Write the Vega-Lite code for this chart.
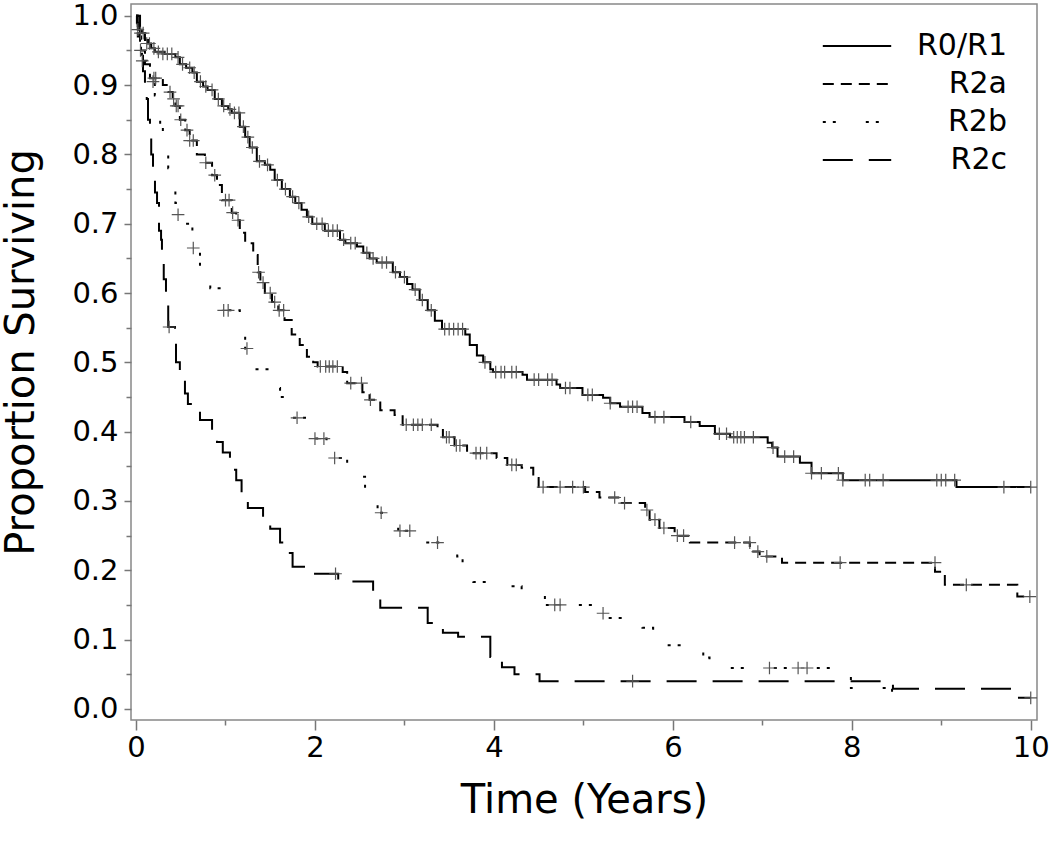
{
  "$schema": "https://vega.github.io/schema/vega-lite/v6.json",
  "width": 906,
  "height": 716,
  "autosize": {"type": "none"},
  "padding": {"left": 131, "top": 4, "right": 13, "bottom": 129},
  "background": "white",
  "config": {
    "view": {"stroke": "#888888", "strokeWidth": 1.5},
    "font": "DejaVu Sans",
    "axis": {"domain": false, "grid": false, "labelFont": "DejaVu Sans", "titleFont": "DejaVu Sans", "labelColor": "black", "titleColor": "black", "tickColor": "#777777", "tickWidth": 1.5, "labelFontSize": 29, "titleFontSize": 40, "titleFontWeight": "normal"},
    "legend": {"labelFont": "DejaVu Sans"}
  },
  "datasets": {
    "curves": [
      {"g":"R0/R1","t":0,"s":1.0},{"g":"R0/R1","t":0.01,"s":0.99},{"g":"R0/R1","t":0.02,"s":0.98},{"g":"R0/R1","t":0.067,"s":0.975},{"g":"R0/R1","t":0.10,"s":0.965},{"g":"R0/R1","t":0.134,"s":0.96},{"g":"R0/R1","t":0.17,"s":0.953},{"g":"R0/R1","t":0.21,"s":0.948},{"g":"R0/R1","t":0.32,"s":0.945},{"g":"R0/R1","t":0.44,"s":0.94},{"g":"R0/R1","t":0.49,"s":0.93},{"g":"R0/R1","t":0.56,"s":0.925},{"g":"R0/R1","t":0.63,"s":0.918},{"g":"R0/R1","t":0.68,"s":0.905},{"g":"R0/R1","t":0.75,"s":0.898},{"g":"R0/R1","t":0.80,"s":0.893},{"g":"R0/R1","t":0.88,"s":0.88},{"g":"R0/R1","t":0.96,"s":0.87},{"g":"R0/R1","t":1.03,"s":0.865},{"g":"R0/R1","t":1.07,"s":0.86},{"g":"R0/R1","t":1.16,"s":0.84},{"g":"R0/R1","t":1.22,"s":0.825},{"g":"R0/R1","t":1.27,"s":0.81},{"g":"R0/R1","t":1.35,"s":0.79},{"g":"R0/R1","t":1.44,"s":0.785},{"g":"R0/R1","t":1.50,"s":0.778},{"g":"R0/R1","t":1.55,"s":0.763},{"g":"R0/R1","t":1.63,"s":0.75},{"g":"R0/R1","t":1.72,"s":0.739},{"g":"R0/R1","t":1.78,"s":0.73},{"g":"R0/R1","t":1.85,"s":0.72},{"g":"R0/R1","t":1.91,"s":0.71},{"g":"R0/R1","t":1.97,"s":0.70},{"g":"R0/R1","t":2.11,"s":0.69},{"g":"R0/R1","t":2.28,"s":0.677},{"g":"R0/R1","t":2.34,"s":0.672},{"g":"R0/R1","t":2.47,"s":0.667},{"g":"R0/R1","t":2.54,"s":0.658},{"g":"R0/R1","t":2.61,"s":0.65},{"g":"R0/R1","t":2.69,"s":0.644},{"g":"R0/R1","t":2.87,"s":0.63},{"g":"R0/R1","t":2.95,"s":0.623},{"g":"R0/R1","t":3.03,"s":0.613},{"g":"R0/R1","t":3.09,"s":0.605},{"g":"R0/R1","t":3.17,"s":0.59},{"g":"R0/R1","t":3.26,"s":0.575},{"g":"R0/R1","t":3.34,"s":0.56},{"g":"R0/R1","t":3.42,"s":0.548},{"g":"R0/R1","t":3.68,"s":0.54},{"g":"R0/R1","t":3.73,"s":0.525},{"g":"R0/R1","t":3.81,"s":0.51},{"g":"R0/R1","t":3.88,"s":0.50},{"g":"R0/R1","t":3.96,"s":0.49},{"g":"R0/R1","t":3.99,"s":0.486},{"g":"R0/R1","t":4.32,"s":0.482},{"g":"R0/R1","t":4.37,"s":0.475},{"g":"R0/R1","t":4.70,"s":0.468},{"g":"R0/R1","t":4.74,"s":0.463},{"g":"R0/R1","t":4.99,"s":0.453},{"g":"R0/R1","t":5.22,"s":0.449},{"g":"R0/R1","t":5.30,"s":0.441},{"g":"R0/R1","t":5.41,"s":0.436},{"g":"R0/R1","t":5.66,"s":0.427},{"g":"R0/R1","t":5.74,"s":0.421},{"g":"R0/R1","t":6.13,"s":0.414},{"g":"R0/R1","t":6.30,"s":0.408},{"g":"R0/R1","t":6.47,"s":0.397},{"g":"R0/R1","t":6.64,"s":0.392},{"g":"R0/R1","t":7.06,"s":0.384},{"g":"R0/R1","t":7.11,"s":0.377},{"g":"R0/R1","t":7.17,"s":0.364},{"g":"R0/R1","t":7.42,"s":0.355},{"g":"R0/R1","t":7.55,"s":0.34},{"g":"R0/R1","t":7.90,"s":0.33},{"g":"R0/R1","t":9.17,"s":0.32},{"g":"R0/R1","t":10.0,"s":0.32},
      {"g":"R2a","t":0,"s":1.0},{"g":"R2a","t":0.02,"s":0.97},{"g":"R2a","t":0.056,"s":0.95},{"g":"R2a","t":0.10,"s":0.93},{"g":"R2a","t":0.156,"s":0.91},{"g":"R2a","t":0.30,"s":0.90},{"g":"R2a","t":0.36,"s":0.89},{"g":"R2a","t":0.41,"s":0.88},{"g":"R2a","t":0.44,"s":0.87},{"g":"R2a","t":0.49,"s":0.85},{"g":"R2a","t":0.55,"s":0.835},{"g":"R2a","t":0.60,"s":0.82},{"g":"R2a","t":0.68,"s":0.80},{"g":"R2a","t":0.77,"s":0.788},{"g":"R2a","t":0.85,"s":0.77},{"g":"R2a","t":0.905,"s":0.756},{"g":"R2a","t":0.96,"s":0.734},{"g":"R2a","t":1.07,"s":0.716},{"g":"R2a","t":1.12,"s":0.705},{"g":"R2a","t":1.16,"s":0.687},{"g":"R2a","t":1.22,"s":0.672},{"g":"R2a","t":1.31,"s":0.655},{"g":"R2a","t":1.36,"s":0.63},{"g":"R2a","t":1.39,"s":0.615},{"g":"R2a","t":1.44,"s":0.60},{"g":"R2a","t":1.52,"s":0.587},{"g":"R2a","t":1.59,"s":0.575},{"g":"R2a","t":1.66,"s":0.561},{"g":"R2a","t":1.74,"s":0.54},{"g":"R2a","t":1.83,"s":0.525},{"g":"R2a","t":1.91,"s":0.508},{"g":"R2a","t":1.98,"s":0.50},{"g":"R2a","t":2.03,"s":0.494},{"g":"R2a","t":2.31,"s":0.486},{"g":"R2a","t":2.36,"s":0.47},{"g":"R2a","t":2.53,"s":0.457},{"g":"R2a","t":2.61,"s":0.446},{"g":"R2a","t":2.73,"s":0.431},{"g":"R2a","t":2.89,"s":0.424},{"g":"R2a","t":2.98,"s":0.41},{"g":"R2a","t":3.37,"s":0.405},{"g":"R2a","t":3.43,"s":0.392},{"g":"R2a","t":3.56,"s":0.38},{"g":"R2a","t":3.70,"s":0.369},{"g":"R2a","t":4.03,"s":0.362},{"g":"R2a","t":4.15,"s":0.352},{"g":"R2a","t":4.31,"s":0.348},{"g":"R2a","t":4.44,"s":0.333},{"g":"R2a","t":4.50,"s":0.32},{"g":"R2a","t":5.02,"s":0.313},{"g":"R2a","t":5.18,"s":0.305},{"g":"R2a","t":5.41,"s":0.297},{"g":"R2a","t":5.69,"s":0.287},{"g":"R2a","t":5.74,"s":0.273},{"g":"R2a","t":5.85,"s":0.261},{"g":"R2a","t":6.02,"s":0.25},{"g":"R2a","t":6.19,"s":0.24},{"g":"R2a","t":6.86,"s":0.227},{"g":"R2a","t":6.97,"s":0.22},{"g":"R2a","t":7.22,"s":0.211},{"g":"R2a","t":8.93,"s":0.198},{"g":"R2a","t":9.04,"s":0.179},{"g":"R2a","t":9.85,"s":0.162},{"g":"R2a","t":10.0,"s":0.162},
      {"g":"R2b","t":0,"s":1.0},{"g":"R2b","t":0.02,"s":0.96},{"g":"R2b","t":0.067,"s":0.935},{"g":"R2b","t":0.12,"s":0.92},{"g":"R2b","t":0.18,"s":0.905},{"g":"R2b","t":0.21,"s":0.885},{"g":"R2b","t":0.245,"s":0.865},{"g":"R2b","t":0.27,"s":0.84},{"g":"R2b","t":0.30,"s":0.81},{"g":"R2b","t":0.36,"s":0.78},{"g":"R2b","t":0.38,"s":0.76},{"g":"R2b","t":0.44,"s":0.73},{"g":"R2b","t":0.49,"s":0.70},{"g":"R2b","t":0.63,"s":0.665},{"g":"R2b","t":0.715,"s":0.63},{"g":"R2b","t":0.83,"s":0.607},{"g":"R2b","t":0.96,"s":0.575},{"g":"R2b","t":1.16,"s":0.545},{"g":"R2b","t":1.22,"s":0.52},{"g":"R2b","t":1.33,"s":0.49},{"g":"R2b","t":1.53,"s":0.463},{"g":"R2b","t":1.61,"s":0.45},{"g":"R2b","t":1.66,"s":0.44},{"g":"R2b","t":1.72,"s":0.42},{"g":"R2b","t":1.91,"s":0.41},{"g":"R2b","t":1.97,"s":0.39},{"g":"R2b","t":2.13,"s":0.378},{"g":"R2b","t":2.19,"s":0.362},{"g":"R2b","t":2.36,"s":0.345},{"g":"R2b","t":2.41,"s":0.335},{"g":"R2b","t":2.56,"s":0.31},{"g":"R2b","t":2.65,"s":0.30},{"g":"R2b","t":2.70,"s":0.283},{"g":"R2b","t":2.90,"s":0.276},{"g":"R2b","t":2.93,"s":0.257},{"g":"R2b","t":3.12,"s":0.24},{"g":"R2b","t":3.59,"s":0.22},{"g":"R2b","t":3.65,"s":0.208},{"g":"R2b","t":3.77,"s":0.183},{"g":"R2b","t":4.04,"s":0.177},{"g":"R2b","t":4.31,"s":0.169},{"g":"R2b","t":4.57,"s":0.15},{"g":"R2b","t":5.18,"s":0.138},{"g":"R2b","t":5.27,"s":0.131},{"g":"R2b","t":5.61,"s":0.125},{"g":"R2b","t":5.66,"s":0.117},{"g":"R2b","t":5.78,"s":0.111},{"g":"R2b","t":5.94,"s":0.092},{"g":"R2b","t":6.10,"s":0.088},{"g":"R2b","t":6.34,"s":0.074},{"g":"R2b","t":6.41,"s":0.066},{"g":"R2b","t":6.50,"s":0.059},{"g":"R2b","t":7.99,"s":0.03},{"g":"R2b","t":8.45,"s":0.0},
      {"g":"R2c","t":0,"s":1.0},{"g":"R2c","t":0.045,"s":0.96},{"g":"R2c","t":0.067,"s":0.95},{"g":"R2c","t":0.078,"s":0.92},{"g":"R2c","t":0.10,"s":0.90},{"g":"R2c","t":0.12,"s":0.88},{"g":"R2c","t":0.134,"s":0.85},{"g":"R2c","t":0.156,"s":0.83},{"g":"R2c","t":0.17,"s":0.80},{"g":"R2c","t":0.19,"s":0.78},{"g":"R2c","t":0.212,"s":0.745},{"g":"R2c","t":0.235,"s":0.73},{"g":"R2c","t":0.257,"s":0.69},{"g":"R2c","t":0.28,"s":0.677},{"g":"R2c","t":0.29,"s":0.645},{"g":"R2c","t":0.31,"s":0.62},{"g":"R2c","t":0.335,"s":0.595},{"g":"R2c","t":0.36,"s":0.551},{"g":"R2c","t":0.436,"s":0.528},{"g":"R2c","t":0.447,"s":0.50},{"g":"R2c","t":0.49,"s":0.48},{"g":"R2c","t":0.547,"s":0.455},{"g":"R2c","t":0.58,"s":0.44},{"g":"R2c","t":0.715,"s":0.417},{"g":"R2c","t":0.85,"s":0.40},{"g":"R2c","t":0.905,"s":0.385},{"g":"R2c","t":0.97,"s":0.37},{"g":"R2c","t":1.05,"s":0.345},{"g":"R2c","t":1.12,"s":0.33},{"g":"R2c","t":1.18,"s":0.305},{"g":"R2c","t":1.25,"s":0.29},{"g":"R2c","t":1.42,"s":0.277},{"g":"R2c","t":1.50,"s":0.26},{"g":"R2c","t":1.61,"s":0.24},{"g":"R2c","t":1.66,"s":0.225},{"g":"R2c","t":1.75,"s":0.205},{"g":"R2c","t":1.89,"s":0.195},{"g":"R2c","t":2.26,"s":0.184},{"g":"R2c","t":2.65,"s":0.17},{"g":"R2c","t":2.69,"s":0.158},{"g":"R2c","t":2.73,"s":0.146},{"g":"R2c","t":3.26,"s":0.124},{"g":"R2c","t":3.43,"s":0.11},{"g":"R2c","t":3.60,"s":0.104},{"g":"R2c","t":3.96,"s":0.075},{"g":"R2c","t":4.09,"s":0.06},{"g":"R2c","t":4.23,"s":0.05},{"g":"R2c","t":4.51,"s":0.04},{"g":"R2c","t":8.46,"s":0.029},{"g":"R2c","t":9.85,"s":0.016},{"g":"R2c","t":10.0,"s":0.016}
    ],
    "censors": [
      {"g":"R0/R1","t":0.02,"s":0.98},{"g":"R0/R1","t":0.05,"s":0.975},{"g":"R0/R1","t":0.08,"s":0.975},{"g":"R0/R1","t":0.12,"s":0.96},{"g":"R0/R1","t":0.15,"s":0.96},{"g":"R0/R1","t":0.2,"s":0.953},{"g":"R0/R1","t":0.25,"s":0.948},{"g":"R0/R1","t":0.3,"s":0.945},{"g":"R0/R1","t":0.35,"s":0.945},{"g":"R0/R1","t":0.4,"s":0.945},{"g":"R0/R1","t":0.47,"s":0.94},{"g":"R0/R1","t":0.52,"s":0.93},{"g":"R0/R1","t":0.6,"s":0.925},{"g":"R0/R1","t":0.65,"s":0.918},{"g":"R0/R1","t":0.72,"s":0.905},{"g":"R0/R1","t":0.78,"s":0.898},{"g":"R0/R1","t":0.85,"s":0.893},{"g":"R0/R1","t":0.92,"s":0.88},{"g":"R0/R1","t":0.98,"s":0.87},{"g":"R0/R1","t":1.05,"s":0.865},{"g":"R0/R1","t":1.1,"s":0.86},{"g":"R0/R1","t":1.15,"s":0.86},{"g":"R0/R1","t":1.2,"s":0.84},{"g":"R0/R1","t":1.25,"s":0.825},{"g":"R0/R1","t":1.3,"s":0.81},{"g":"R0/R1","t":1.38,"s":0.79},{"g":"R0/R1","t":1.47,"s":0.785},{"g":"R0/R1","t":1.58,"s":0.763},{"g":"R0/R1","t":1.67,"s":0.75},{"g":"R0/R1","t":1.75,"s":0.739},{"g":"R0/R1","t":1.82,"s":0.73},{"g":"R0/R1","t":1.93,"s":0.71},{"g":"R0/R1","t":2.02,"s":0.70},{"g":"R0/R1","t":2.08,"s":0.70},{"g":"R0/R1","t":2.15,"s":0.69},{"g":"R0/R1","t":2.2,"s":0.69},{"g":"R0/R1","t":2.25,"s":0.69},{"g":"R0/R1","t":2.32,"s":0.677},{"g":"R0/R1","t":2.4,"s":0.672},{"g":"R0/R1","t":2.45,"s":0.672},{"g":"R0/R1","t":2.58,"s":0.658},{"g":"R0/R1","t":2.65,"s":0.65},{"g":"R0/R1","t":2.75,"s":0.644},{"g":"R0/R1","t":2.8,"s":0.644},{"g":"R0/R1","t":2.9,"s":0.63},{"g":"R0/R1","t":3.0,"s":0.623},{"g":"R0/R1","t":3.12,"s":0.605},{"g":"R0/R1","t":3.2,"s":0.59},{"g":"R0/R1","t":3.3,"s":0.575},{"g":"R0/R1","t":3.45,"s":0.548},{"g":"R0/R1","t":3.5,"s":0.548},{"g":"R0/R1","t":3.55,"s":0.548},{"g":"R0/R1","t":3.6,"s":0.548},{"g":"R0/R1","t":3.65,"s":0.548},{"g":"R0/R1","t":3.9,"s":0.50},{"g":"R0/R1","t":4.02,"s":0.486},{"g":"R0/R1","t":4.08,"s":0.486},{"g":"R0/R1","t":4.12,"s":0.486},{"g":"R0/R1","t":4.2,"s":0.486},{"g":"R0/R1","t":4.25,"s":0.486},{"g":"R0/R1","t":4.45,"s":0.475},{"g":"R0/R1","t":4.5,"s":0.475},{"g":"R0/R1","t":4.6,"s":0.475},{"g":"R0/R1","t":4.65,"s":0.475},{"g":"R0/R1","t":4.8,"s":0.463},{"g":"R0/R1","t":4.85,"s":0.463},{"g":"R0/R1","t":5.05,"s":0.453},{"g":"R0/R1","t":5.1,"s":0.453},{"g":"R0/R1","t":5.3,"s":0.441},{"g":"R0/R1","t":5.5,"s":0.436},{"g":"R0/R1","t":5.55,"s":0.436},{"g":"R0/R1","t":5.6,"s":0.436},{"g":"R0/R1","t":5.8,"s":0.421},{"g":"R0/R1","t":5.9,"s":0.421},{"g":"R0/R1","t":6.2,"s":0.414},{"g":"R0/R1","t":6.52,"s":0.397},{"g":"R0/R1","t":6.6,"s":0.397},{"g":"R0/R1","t":6.68,"s":0.392},{"g":"R0/R1","t":6.72,"s":0.392},{"g":"R0/R1","t":6.76,"s":0.392},{"g":"R0/R1","t":6.8,"s":0.392},{"g":"R0/R1","t":6.9,"s":0.392},{"g":"R0/R1","t":7.12,"s":0.377},{"g":"R0/R1","t":7.25,"s":0.364},{"g":"R0/R1","t":7.35,"s":0.364},{"g":"R0/R1","t":7.55,"s":0.34},{"g":"R0/R1","t":7.66,"s":0.34},{"g":"R0/R1","t":7.85,"s":0.34},{"g":"R0/R1","t":7.9,"s":0.33},{"g":"R0/R1","t":8.15,"s":0.33},{"g":"R0/R1","t":8.2,"s":0.33},{"g":"R0/R1","t":8.35,"s":0.33},{"g":"R0/R1","t":8.95,"s":0.33},{"g":"R0/R1","t":9.0,"s":0.33},{"g":"R0/R1","t":9.05,"s":0.33},{"g":"R0/R1","t":9.15,"s":0.33},{"g":"R0/R1","t":9.7,"s":0.32},{"g":"R0/R1","t":10.0,"s":0.32},
      {"g":"R2a","t":0.05,"s":0.95},{"g":"R2a","t":0.2,"s":0.91},{"g":"R2a","t":0.22,"s":0.91},{"g":"R2a","t":0.38,"s":0.89},{"g":"R2a","t":0.42,"s":0.88},{"g":"R2a","t":0.45,"s":0.87},{"g":"R2a","t":0.47,"s":0.87},{"g":"R2a","t":0.5,"s":0.85},{"g":"R2a","t":0.57,"s":0.835},{"g":"R2a","t":0.6,"s":0.82},{"g":"R2a","t":0.64,"s":0.82},{"g":"R2a","t":0.78,"s":0.788},{"g":"R2a","t":0.88,"s":0.77},{"g":"R2a","t":1.0,"s":0.734},{"g":"R2a","t":1.04,"s":0.734},{"g":"R2a","t":1.08,"s":0.716},{"g":"R2a","t":1.14,"s":0.705},{"g":"R2a","t":1.37,"s":0.63},{"g":"R2a","t":1.42,"s":0.615},{"g":"R2a","t":1.5,"s":0.60},{"g":"R2a","t":1.55,"s":0.587},{"g":"R2a","t":1.6,"s":0.575},{"g":"R2a","t":1.65,"s":0.575},{"g":"R2a","t":2.06,"s":0.494},{"g":"R2a","t":2.12,"s":0.494},{"g":"R2a","t":2.16,"s":0.494},{"g":"R2a","t":2.2,"s":0.494},{"g":"R2a","t":2.25,"s":0.494},{"g":"R2a","t":2.4,"s":0.47},{"g":"R2a","t":2.52,"s":0.47},{"g":"R2a","t":2.62,"s":0.446},{"g":"R2a","t":3.02,"s":0.41},{"g":"R2a","t":3.1,"s":0.41},{"g":"R2a","t":3.15,"s":0.41},{"g":"R2a","t":3.2,"s":0.41},{"g":"R2a","t":3.3,"s":0.41},{"g":"R2a","t":3.47,"s":0.392},{"g":"R2a","t":3.5,"s":0.392},{"g":"R2a","t":3.58,"s":0.38},{"g":"R2a","t":3.62,"s":0.38},{"g":"R2a","t":3.8,"s":0.369},{"g":"R2a","t":3.85,"s":0.369},{"g":"R2a","t":3.92,"s":0.369},{"g":"R2a","t":4.2,"s":0.352},{"g":"R2a","t":4.25,"s":0.352},{"g":"R2a","t":4.55,"s":0.32},{"g":"R2a","t":4.74,"s":0.32},{"g":"R2a","t":4.88,"s":0.32},{"g":"R2a","t":5.0,"s":0.32},{"g":"R2a","t":5.35,"s":0.305},{"g":"R2a","t":5.46,"s":0.297},{"g":"R2a","t":5.71,"s":0.287},{"g":"R2a","t":5.8,"s":0.273},{"g":"R2a","t":5.9,"s":0.261},{"g":"R2a","t":6.05,"s":0.25},{"g":"R2a","t":6.12,"s":0.25},{"g":"R2a","t":6.69,"s":0.24},{"g":"R2a","t":6.86,"s":0.24},{"g":"R2a","t":6.95,"s":0.227},{"g":"R2a","t":7.05,"s":0.22},{"g":"R2a","t":7.87,"s":0.211},{"g":"R2a","t":8.93,"s":0.211},{"g":"R2a","t":9.28,"s":0.179},{"g":"R2a","t":9.99,"s":0.162},
      {"g":"R2b","t":0.07,"s":0.935},{"g":"R2b","t":0.19,"s":0.905},{"g":"R2b","t":0.47,"s":0.713},{"g":"R2b","t":0.64,"s":0.665},{"g":"R2b","t":0.98,"s":0.575},{"g":"R2b","t":1.03,"s":0.575},{"g":"R2b","t":1.24,"s":0.52},{"g":"R2b","t":1.8,"s":0.42},{"g":"R2b","t":2.0,"s":0.39},{"g":"R2b","t":2.1,"s":0.39},{"g":"R2b","t":2.22,"s":0.362},{"g":"R2b","t":2.74,"s":0.283},{"g":"R2b","t":2.95,"s":0.257},{"g":"R2b","t":3.06,"s":0.257},{"g":"R2b","t":3.37,"s":0.24},{"g":"R2b","t":4.68,"s":0.15},{"g":"R2b","t":4.74,"s":0.15},{"g":"R2b","t":5.22,"s":0.138},{"g":"R2b","t":7.08,"s":0.059},{"g":"R2b","t":7.4,"s":0.059},{"g":"R2b","t":7.5,"s":0.059},
      {"g":"R2c","t":0.37,"s":0.551},{"g":"R2c","t":2.23,"s":0.195},{"g":"R2c","t":5.55,"s":0.04},{"g":"R2c","t":10.0,"s":0.016}
    ]
  },
  "encoding": {
    "x": {"field": "t", "type": "quantitative", "scale": {"domain": [-0.056, 10.07], "nice": false, "zero": false},
      "axis": {"title": "Time (Years)", "values": [0,1,2,3,4,5,6,7,8,9,10], "labelExpr": "datum.value % 2 == 0 ? datum.label : ''", "tickSize": {"condition": {"test": "datum.value % 2 == 0", "value": 10}, "value": 5}, "labelPadding": 3, "titleY": 80, "titleBaseline": "middle"}},
    "y": {"field": "s", "type": "quantitative", "scale": {"domain": [-0.016, 1.017], "nice": false, "zero": false},
      "axis": {"title": "Proportion Surviving", "values": [0,0.05,0.1,0.15,0.2,0.25,0.3,0.35,0.4,0.45,0.5,0.55,0.6,0.65,0.7,0.75,0.8,0.85,0.9,0.95,1.0], "format": ".1f", "labelExpr": "round(datum.value*100) % 10 == 0 ? datum.label : ''", "tickSize": {"condition": {"test": "round(datum.value*100) % 10 == 0", "value": 7}, "value": 5}, "labelPadding": 6, "titleX": -110, "titleY": 348, "titleBaseline": "middle", "titleAngle": -90}}
  },
  "layer": [
    {
      "data": {"name": "curves"},
      "mark": {"type": "line", "interpolate": "step-after", "color": "black", "strokeWidth": 2},
      "encoding": {
        "strokeDash": {"field": "g", "type": "nominal",
          "scale": {"domain": ["R0/R1", "R2a", "R2b", "R2c"], "range": [[1, 0], [11, 7], [3, 7, 3, 30], [30, 16]]},
          "legend": {"title": null, "orient": "none", "legendX": 706, "legendY": 22, "padding": 0, "symbolType": "M-1.8,0H1.8", "symbolSize": 1444, "symbolStrokeWidth": 2, "symbolStrokeColor": "black", "symbolFillColor": "transparent", "labelFontSize": 30, "labelAlign": "right", "labelOffset": 130, "rowPadding": 3, "labelColor": "black"}}
      }
    },
    {
      "data": {"name": "censors"},
      "mark": {"type": "point", "shape": "M-1,0L1,0M0,-1L0,1", "size": 160, "filled": false, "stroke": "#555555", "strokeWidth": 1.2, "opacity": 1}
    }
  ]
}
